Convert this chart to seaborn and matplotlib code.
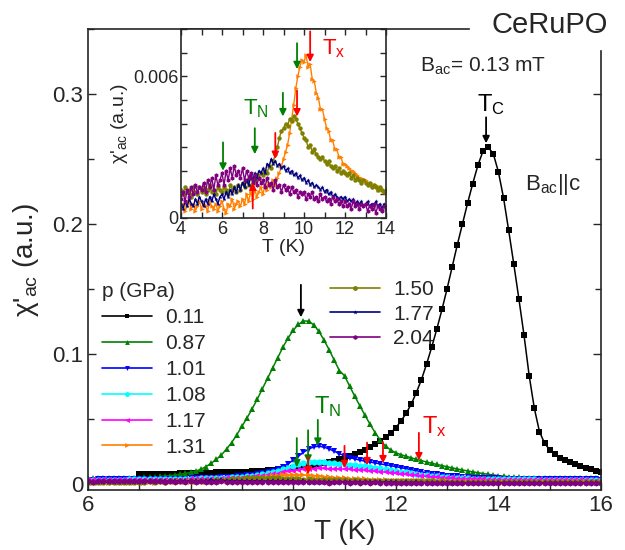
import numpy as np
import matplotlib
matplotlib.use('Agg')
import matplotlib.pyplot as plt
from matplotlib.lines import Line2D
from matplotlib.ticker import MultipleLocator, FixedLocator, FuncFormatter
import seaborn as sns

sns.set_style('ticks')
plt.rcParams['font.family'] = ['Liberation Sans', 'DejaVu Sans']
plt.rcParams['mathtext.default'] = 'regular'

# temperature grids (K)
t_011 = np.round(np.arange(7.0, 16.01, 0.1), 1)
t_mid = np.round(np.arange(6.0, 16.01, 0.1), 1)
t_low = np.round(np.arange(4.0, 16.01, 0.1), 1)

# chi'_ac (a.u.)
chi_011 = [
    .0070, .0071, .0072, .0073, .0074, .0075, .0076, .0077, .0078, .0079,
    .0080, .0081, .0082, .0083, .0084, .0085, .0086, .0087, .0088, .0089,
    .0090, .0092, .0094, .0097, .0100, .0103, .0106, .0109, .0112, .0115,
    .0118, .0122, .0127, .0133, .0140, .0148, .0156, .0165, .0175, .0186,
    .0198, .0212, .0227, .0243, .0261, .0281, .0303, .0328, .0356, .0390,
    .0430, .0480, .0540, .0610, .0700, .0800, .0920, .1050, .1190, .1340,
    .1500, .1670, .1840, .2000, .2160, .2310, .2450, .2560, .2590, .2540,
    .2400, .2200, .1950, .1690, .1420, .1140, .0830, .0580, .0400, .0310,
    .0260, .0230, .0200, .0180, .0163, .0148, .0134, .0121, .0109, .0097,
    .0086]
chi_087 = [
    .0040, .0040, .0041, .0041, .0042, .0042, .0043, .0043, .0044, .0045,
    .0046, .0047, .0049, .0051, .0054, .0057, .0061, .0066, .0072, .0078,
    .0085, .0095, .0110, .0130, .0155, .0185, .0220, .0265, .0315, .0375,
    .0440, .0505, .0575, .0650, .0730, .0810, .0890, .0970, .1050, .1120,
    .1180, .1225, .1252, .1250, .1222, .1172, .1105, .1030, .0950, .0870,
    .0830, .0750, .0672, .0598, .0525, .0455, .0390, .0332, .0288, .0258,
    .0237, .0222, .0210, .0198, .0187, .0176, .0166, .0156, .0147, .0138,
    .0129, .0120, .0112, .0104, .0097, .0090, .0083, .0077, .0071, .0066,
    .0061, .0057, .0053, .0050, .0047, .0045, .0043, .0042, .0041, .0040,
    .0040, .0039, .0040, .0040, .0039, .0040, .0040, .0039, .0040, .0040,
    .0040]
chi_101 = [
    .0030, .0030, .0031, .0031, .0031, .0032, .0032, .0032, .0033, .0033,
    .0033, .0034, .0034, .0035, .0035, .0036, .0036, .0037, .0037, .0038,
    .0039, .0040, .0041, .0042, .0043, .0045, .0047, .0049, .0052, .0055,
    .0058, .0062, .0067, .0073, .0080, .0089, .0100, .0113, .0128, .0152,
    .0180, .0210, .0240, .0265, .0282, .0287, .0280, .0266, .0248, .0230,
    .0214, .0200, .0189, .0180, .0172, .0165, .0158, .0151, .0144, .0137,
    .0130, .0122, .0114, .0106, .0098, .0090, .0083, .0077, .0071, .0066,
    .0061, .0057, .0054, .0051, .0048, .0046, .0044, .0042, .0041, .0040,
    .0039, .0038, .0038, .0037, .0037, .0036, .0036, .0035, .0035, .0034,
    .0034, .0033, .0033, .0033, .0032, .0032, .0032, .0031, .0031, .0031,
    .0030]
chi_108 = [
    .0028, .0028, .0029, .0029, .0029, .0030, .0030, .0030, .0031, .0031,
    .0031, .0032, .0032, .0033, .0033, .0034, .0034, .0035, .0035, .0036,
    .0037, .0038, .0039, .0040, .0041, .0042, .0044, .0046, .0048, .0050,
    .0053, .0056, .0060, .0065, .0071, .0078, .0086, .0096, .0108, .0121,
    .0135, .0148, .0158, .0164, .0166, .0165, .0163, .0160, .0157, .0154,
    .0150, .0146, .0142, .0138, .0133, .0128, .0122, .0116, .0110, .0104,
    .0098, .0092, .0086, .0080, .0074, .0069, .0064, .0059, .0055, .0051,
    .0048, .0045, .0043, .0041, .0039, .0038, .0037, .0036, .0035, .0034,
    .0034, .0033, .0033, .0032, .0032, .0031, .0031, .0031, .0030, .0030,
    .0030, .0030, .0029, .0029, .0029, .0029, .0028, .0028, .0028, .0028,
    .0028]
chi_117 = [
    .0024, .0024, .0024, .0025, .0025, .0025, .0025, .0026, .0026, .0026,
    .0026, .0027, .0027, .0027, .0028, .0028, .0029, .0029, .0030, .0030,
    .0031, .0032, .0033, .0034, .0035, .0036, .0037, .0039, .0041, .0043,
    .0045, .0048, .0051, .0055, .0059, .0064, .0070, .0077, .0085, .0093,
    .0100, .0106, .0110, .0113, .0115, .0116, .0116, .0115, .0114, .0113,
    .0111, .0109, .0107, .0104, .0101, .0098, .0095, .0091, .0087, .0083,
    .0079, .0075, .0071, .0067, .0063, .0059, .0055, .0051, .0048, .0045,
    .0042, .0040, .0038, .0036, .0034, .0033, .0032, .0031, .0030, .0029,
    .0028, .0028, .0027, .0027, .0027, .0026, .0026, .0026, .0025, .0025,
    .0025, .0025, .0025, .0024, .0024, .0024, .0024, .0024, .0023, .0023,
    .0023]
chi_131 = [
    .0004, .0006, .0003, .0005, .0007, .0004, .0006, .0003, .0005, .0007,
    .0004, .0006, .0005, .0003, .0007, .0005, .0004, .0006, .0003, .0005,
    .0007, .0004, .0002, .0006, .0005, .0008, .0004, .0006, .0007, .0005,
    .0008, .0006, .0010, .0007, .0011, .0008, .0012, .0009, .0011, .0013,
    .0010, .0014, .0012, .0015, .0013, .0016, .0014, .0017, .0019, .0022,
    .0025, .0028, .0031, .0036, .0042, .0048, .0055, .0060, .0064, .0067,
    .0066, .0069, .0064, .0065, .0059, .0058, .0053, .0051, .0046, .0046,
    .0042, .0038, .0037, .0033, .0033, .0029, .0029, .0026, .0026, .0023,
    .0023, .0022, .0021, .0020, .0020, .0019, .0018, .0017, .0017, .0016,
    .0016, .0015, .0015, .0014, .0013, .0014, .0012, .0013, .0012, .0011,
    .0011, .0012, .0010, .0011, .0010, .0011, .0010, .0009, .0010, .0009,
    .0009, .0010, .0009, .0008, .0009, .0008, .0009, .0008, .0008, .0009,
    .0008]
chi_150 = [
    .0012, .0010, .0013, .0011, .0012, .0009, .0013, .0011, .0010, .0013,
    .0011, .0013, .0010, .0012, .0014, .0011, .0012, .0010, .0013, .0012,
    .0011, .0013, .0012, .0010, .0014, .0012, .0013, .0011, .0014, .0012,
    .0015, .0013, .0016, .0014, .0017, .0015, .0016, .0018, .0017, .0019,
    .0018, .0020, .0019, .0022, .0021, .0024, .0027, .0030, .0034, .0037,
    .0038, .0040, .0039, .0042, .0041, .0043, .0042, .0040, .0038, .0036,
    .0034, .0033, .0030, .0031, .0028, .0029, .0027, .0026, .0025, .0026,
    .0024, .0023, .0024, .0022, .0021, .0022, .0020, .0021, .0019, .0020,
    .0019, .0018, .0019, .0017, .0018, .0016, .0017, .0016, .0015, .0016,
    .0015, .0014, .0015, .0013, .0014, .0013, .0012, .0013, .0012, .0011,
    .0012, .0011, .0012, .0011, .0010, .0011, .0010, .0011, .0010, .0010,
    .0010, .0011, .0010, .0009, .0010, .0010, .0009, .0010, .0009, .0010,
    .0009]
chi_177 = [
    .0006, .0004, .0007, .0005, .0008, .0006, .0005, .0008, .0006, .0009,
    .0007, .0005, .0008, .0006, .0009, .0007, .0010, .0008, .0006, .0009,
    .0010, .0008, .0011, .0009, .0012, .0010, .0013, .0011, .0014, .0012,
    .0015, .0013, .0016, .0014, .0018, .0016, .0019, .0017, .0020, .0019,
    .0021, .0019, .0023, .0022, .0025, .0023, .0024, .0022, .0023, .0021,
    .0022, .0020, .0021, .0019, .0020, .0018, .0019, .0017, .0018, .0016,
    .0017, .0015, .0016, .0014, .0015, .0013, .0014, .0013, .0012, .0013,
    .0011, .0012, .0010, .0011, .0009, .0010, .0009, .0008, .0009, .0008,
    .0009, .0007, .0008, .0007, .0008, .0006, .0007, .0006, .0007, .0005,
    .0006, .0007, .0005, .0006, .0005, .0007, .0005, .0006, .0004, .0006,
    .0005, .0006, .0004, .0005, .0006, .0004, .0005, .0004, .0005, .0004,
    .0005, .0004, .0005, .0004, .0004, .0005, .0004, .0005, .0004, .0004,
    .0004]
chi_204 = [
    .0008, .0011, .0007, .0012, .0009, .0013, .0010, .0014, .0011, .0013,
    .0012, .0015, .0011, .0016, .0013, .0017, .0012, .0018, .0014, .0016,
    .0019, .0014, .0020, .0016, .0021, .0017, .0022, .0018, .0020, .0017,
    .0021, .0016, .0020, .0017, .0019, .0015, .0018, .0014, .0017, .0015,
    .0016, .0013, .0017, .0014, .0015, .0012, .0016, .0013, .0014, .0011,
    .0014, .0012, .0013, .0010, .0013, .0011, .0012, .0009, .0011, .0010,
    .0011, .0008, .0010, .0009, .0011, .0008, .0009, .0007, .0010, .0008,
    .0009, .0007, .0008, .0006, .0009, .0007, .0008, .0006, .0007, .0005,
    .0007, .0005, .0006, .0004, .0007, .0005, .0006, .0004, .0006, .0005,
    .0006, .0003, .0005, .0004, .0006, .0002, .0005, .0004, .0003, .0005,
    .0004, .0003, .0005, .0003, .0004, .0002, .0004, .0003, .0004, .0003,
    .0004, .0003, .0004, .0003, .0003, .0004, .0003, .0003, .0004, .0003,
    .0003]

pressures = ['0.11', '0.87', '1.01', '1.08', '1.17', '1.31', '1.50', '1.77', '2.04']
temps = [t_011, t_mid, t_mid, t_mid, t_mid, t_low, t_low, t_low, t_low]
chis = [chi_011, chi_087, chi_101, chi_108, chi_117, chi_131, chi_150, chi_177, chi_204]
colors = ['black', '#008000', '#0000ff', '#00ffff', '#ff00ff', '#ff8000',
          '#808000', '#000080', '#800080']
markers = ['s', '^', 'v', 'o', '<', '>', 'o', '*', 'h']

# arrows (T, tail, tip)
main_green_arrows = [(10.07, .035, .0125), (10.29, .041, .016), (10.48, .049, .029)]
main_red_arrows = [(10.29, .021, .007), (11.0, .029, .0118), (11.44, .0315, .014),
                   (11.75, .032, .0155), (12.45, .039, .0178)]
main_black_arrows = [(13.76, .282, .262), (10.15, .153, .128)]
ins_green_arrows = [(6.05, .0032, .0020), (7.6, .0038, .0027), (8.97, .0053, .0043),
                    (9.66, .0074, .0063)]
ins_red_arrows = [(8.6, .0036, .0025), (9.66, .0054, .0043), (10.3, .0079, .0066),
                  (7.5, .0004, .0015)]

fig = plt.figure(figsize=(6.25, 5.5), dpi=100)
ax = fig.add_axes([88 / 625, 60 / 550, 513 / 625, 461 / 550])

for i, (t, c, col, m) in enumerate(zip(temps, chis, colors, markers)):
    sns.lineplot(x=t, y=c, ax=ax, color=col, marker=m,
                 markersize=4 if i < 2 else 4.5,
                 markeredgewidth=0, linewidth=1.1, estimator=None, sort=False,
                 legend=False)

ax.set_xlim(6, 16)
ax.set_ylim(-0.005, 0.35)
ax.xaxis.set_major_locator(MultipleLocator(2))
ax.xaxis.set_minor_locator(MultipleLocator(1))
ax.yaxis.set_major_locator(MultipleLocator(0.1))
ax.yaxis.set_minor_locator(MultipleLocator(0.05))
ax.yaxis.set_major_formatter(FuncFormatter(lambda v, p: '0' if abs(v) < 1e-9 else f'{v:g}'))
ax.tick_params(which='both', direction='in', right=True, top=False, labelsize=16, width=1)
ax.tick_params(which='major', length=6)
ax.tick_params(which='minor', length=4)
for s in ax.spines.values():
    s.set_linewidth(1.2)
ax.spines['top'].set_bounds(6, 13.43)
ax.spines['right'].set_bounds(-0.005, 0.333)
ax.set_xlabel('T (K)', fontsize=20, labelpad=2)
ax.set_ylabel("χ'$_{ac}$ (a.u.)", fontsize=20, labelpad=8)


def arrow(a, x, tail, tip, col):
    a.annotate('', xy=(x, tip), xytext=(x, tail),
               arrowprops=dict(arrowstyle='-|>', color=col, lw=1.3,
                               mutation_scale=10, shrinkA=0, shrinkB=0))


for x, tl, tp in main_green_arrows:
    arrow(ax, x, tl, tp, '#008000')
for x, tl, tp in main_red_arrows:
    arrow(ax, x, tl, tp, 'red')
for x, tl, tp in main_black_arrows:
    arrow(ax, x, tl, tp, 'black')

ax.text(10.4, .0546, 'T$_N$', color='#008000', fontsize=17, va='baseline')
ax.text(12.51, .0385, 'T$_x$', color='red', fontsize=17, va='baseline')
ax.text(13.58, .287, 'T$_C$', color='black', fontsize=17, va='baseline')

fig.text(420 / 625, 1 - 72 / 550, 'B$_{ac}$= 0.13 mT', fontsize=15, va='baseline')
fig.text(525 / 625, 1 - 190 / 550, 'B$_{ac}$||c', fontsize=16, va='baseline')
fig.text(550 / 625, 1 - 33 / 550, 'CeRuPO', fontsize=21, ha='center', va='baseline')

# legend: two blocks
h = [Line2D([], [], color=c, marker=m, markersize=3.5, markeredgewidth=0, lw=1.2)
     for c, m in zip(colors, markers)]
leg1 = ax.legend(h[:6], pressures[:6], title='p (GPa)', loc='upper left',
                 bbox_to_anchor=(92 / 625, 1 - 272 / 550), bbox_transform=fig.transFigure,
                 frameon=False, fontsize=15, title_fontsize=15, handlelength=2.4,
                 handletextpad=0.6, labelspacing=0.33, borderpad=0, alignment='left')
ax.add_artist(leg1)
ax.legend(h[6:], pressures[6:], loc='upper left',
          bbox_to_anchor=(320 / 625, 1 - 270 / 550), bbox_transform=fig.transFigure,
          frameon=False, fontsize=15, handlelength=2.4, handletextpad=0.6,
          labelspacing=0.25, borderpad=0)

# inset
axin = fig.add_axes([181 / 625, 1 - 218 / 550, 205 / 625, 189 / 550])
axin.set_facecolor('white')
for t, c, col, m in list(zip(temps, chis, colors, markers))[5:]:
    sns.lineplot(x=t, y=c, ax=axin, color=col, marker=m, markersize=3.2,
                 markeredgewidth=0, linewidth=1.0, estimator=None, sort=False,
                 legend=False)
axin.set_xlim(4, 14)
axin.set_ylim(0, 0.008)
axin.xaxis.set_major_locator(MultipleLocator(2))
axin.xaxis.set_minor_locator(MultipleLocator(1))
axin.yaxis.set_major_locator(FixedLocator([0, 0.006]))
axin.yaxis.set_minor_locator(MultipleLocator(0.001))
axin.yaxis.set_major_formatter(FuncFormatter(lambda v, p: '0' if v == 0 else f'{v:.3f}'))
axin.tick_params(which='both', direction='in', top=True, right=True, labelsize=13,
                 length=4, width=1, pad=2)
for s in axin.spines.values():
    s.set_linewidth(1.2)
axin.set_xlabel('T (K)', fontsize=14, labelpad=1)
axin.set_ylabel("χ'$_{ac}$ (a.u.)", fontsize=14, labelpad=2)

for x, tl, tp in ins_green_arrows:
    arrow(axin, x, tl, tp, '#008000')
for x, tl, tp in ins_red_arrows:
    arrow(axin, x, tl, tp, 'red')
axin.text(7.02, .00438, 'T$_N$', color='#008000', fontsize=16, va='baseline')
axin.text(10.88, .00694, 'T$_x$', color='red', fontsize=16, va='baseline')

fig.savefig('out.png', dpi=100)
